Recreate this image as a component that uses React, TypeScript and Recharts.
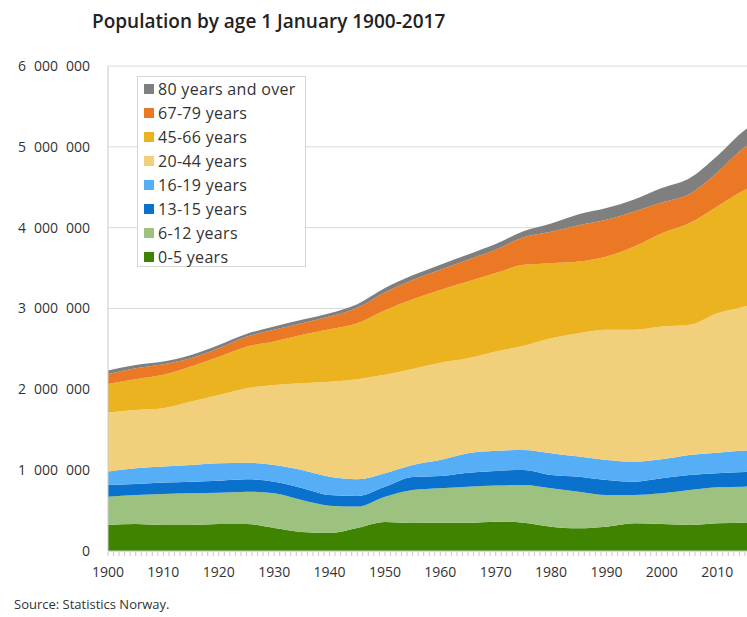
import { AreaChart, Area, XAxis, YAxis, CartesianGrid } from 'recharts';

const YEARS = [1900, 1905, 1910, 1915, 1920, 1925, 1930, 1935, 1940, 1945, 1950, 1955, 1960, 1965, 1970, 1975, 1980, 1985, 1990, 1995, 2000, 2005, 2010, 2015, 2017];

// thousands of persons
const AGE_0_5   = [322, 334, 322, 322, 334, 334, 285, 235, 223, 285, 359, 347, 350, 350, 363, 350, 301, 281, 301, 343, 334, 322, 343, 350, 359];
const AGE_6_12  = [350, 359, 384, 392, 387, 400, 429, 396, 338, 264, 313, 408, 426, 446, 446, 467, 475, 453, 392, 350, 380, 433, 446, 446, 446];
const AGE_13_15 = [145, 136, 140, 144, 149, 153, 144, 149, 132, 132, 124, 161, 152, 173, 182, 186, 165, 186, 186, 165, 186, 186, 173, 182, 179];
const AGE_16_19 = [165, 194, 198, 207, 215, 205, 207, 223, 226, 207, 166, 149, 198, 240, 248, 248, 269, 248, 248, 248, 235, 248, 255, 264, 266];
const AGE_20_44 = [730, 722, 723, 783, 845, 921, 990, 1073, 1176, 1238, 1217, 1188, 1204, 1176, 1229, 1287, 1423, 1527, 1609, 1630, 1641, 1609, 1725, 1782, 1819];
const AGE_45_66 = [355, 380, 412, 433, 474, 515, 536, 598, 649, 693, 800, 860, 900, 948, 970, 1002, 928, 886, 907, 1031, 1156, 1259, 1320, 1444, 1460];
const AGE_67_79 = [124, 136, 132, 104, 104, 124, 145, 145, 156, 190, 220, 240, 250, 270, 290, 340, 390, 450, 454, 433, 380, 360, 420, 530, 557];
const AGE_80    = [41, 41, 32, 41, 41, 33, 41, 41, 42, 45, 55, 58, 62, 66, 70, 75, 100, 136, 145, 150, 178, 195, 205, 210, 215];

const Y_TICKS = [0, 1000000, 2000000, 3000000, 4000000, 5000000, 6000000];
const DECADE_LABELS = [1900, 1910, 1920, 1930, 1940, 1950, 1960, 1970, 1980, 1990, 2000, 2010];
const YEAR_TICKS = Array.from({ length: 2017 - 1900 + 1 }, (_, i) => 1900 + i);

const SERIES = [
  { key: 'a0_5',   label: '0-5 years',         color: '#3f8400', values: AGE_0_5 },
  { key: 'a6_12',  label: '6-12 years',        color: '#9dc27f', values: AGE_6_12 },
  { key: 'a13_15', label: '13-15 years',       color: '#0a71cc', values: AGE_13_15 },
  { key: 'a16_19', label: '16-19 years',       color: '#56aef6', values: AGE_16_19 },
  { key: 'a20_44', label: '20-44 years',       color: '#f2d07b', values: AGE_20_44 },
  { key: 'a45_66', label: '45-66 years',       color: '#ebb320', values: AGE_45_66 },
  { key: 'a67_79', label: '67-79 years',       color: '#ea7824', values: AGE_67_79 },
  { key: 'a80',    label: '80 years and over', color: '#7f7f7f', values: AGE_80 },
];

const data = YEARS.map((year, i) => {
  const row: Record<string, number> = { year };
  SERIES.forEach((s) => { row[s.key] = s.values[i] * 1000; });
  return row;
});

const FONT = '"Open Sans", sans-serif';

const fmt = (v: number) => String(v).replace(/\B(?=(\d{3})+(?!\d))/g, '\u2007');

function XTick(props: any) {
  const { x, y, payload } = props;
  const year = payload.value as number;
  return (
    <g>
      <line x1={x} x2={x} y1={y + 1} y2={y + 5} stroke="#c8c8c8" />
      {DECADE_LABELS.includes(year) && (
        <text x={x} y={y + 26} textAnchor="middle" fill="#333" fontSize={14} fontFamily={FONT}>
          {year}
        </text>
      )}
    </g>
  );
}

function LegendBox() {
  return (
    <div style={{
      position: 'absolute', left: 137, top: 76, width: 169, height: 191,
      background: '#fff', border: '1px solid #d6d6d6', paddingLeft: 6,
      fontFamily: FONT, fontSize: 16, letterSpacing: 0.3, color: '#333', boxSizing: 'border-box',
    }}>
      {[...SERIES].reverse().map((s) => (
        <div key={s.key} style={{ display: 'flex', alignItems: 'center', height: 24, whiteSpace: 'nowrap' }}>
          <span style={{ width: 10, height: 10, background: s.color, marginRight: 4, flex: 'none' }} />
          <span>{s.label}</span>
        </div>
      ))}
    </div>
  );
}

export default function App() {
  return (
    <div style={{ position: 'fixed', left: 0, top: 0, width: 747, height: 617, overflow: 'hidden', background: '#fff' }}>
      <div style={{
        position: 'absolute', left: 92, top: 8, fontFamily: FONT, fontWeight: 600,
        fontSize: 19, color: '#222', whiteSpace: 'nowrap',
      }}>
        Population by age 1 January 1900-2017
      </div>
      <div style={{ position: 'absolute', left: 0, top: 0 }}>
        <AreaChart width={760} height={617} data={data} margin={{ top: 66, right: 4, bottom: 36, left: 0 }}>
          <CartesianGrid vertical={false} stroke="#d9d9d9" />
          <XAxis
            dataKey="year" type="number" domain={[1900, 2017]} ticks={YEAR_TICKS} interval={0}
            tick={<XTick />} tickSize={0} tickMargin={0} tickLine={false}
            axisLine={{ stroke: '#c8c8c8' }} height={30}
          />
          <YAxis
            domain={[0, 6000000]} ticks={Y_TICKS} width={108} tickFormatter={fmt}
            tickLine={false} tickMargin={12} axisLine={{ stroke: '#c8c8c8' }}
            tick={{ fill: '#333', fontSize: 14, fontFamily: FONT }}
          />
          {SERIES.map((s) => (
            <Area
              key={s.key}
              type="monotone"
              dataKey={s.key}
              name={s.label}
              stackId="pop"
              stroke="none"
              fill={s.color}
              fillOpacity={1}
              isAnimationActive={false}
            />
          ))}
        </AreaChart>
      </div>
      <LegendBox />
      <div style={{ position: 'absolute', left: 14, top: 595, fontFamily: FONT, fontSize: 13, color: '#333' }}>
        Source: Statistics Norway.
      </div>
    </div>
  );
}
